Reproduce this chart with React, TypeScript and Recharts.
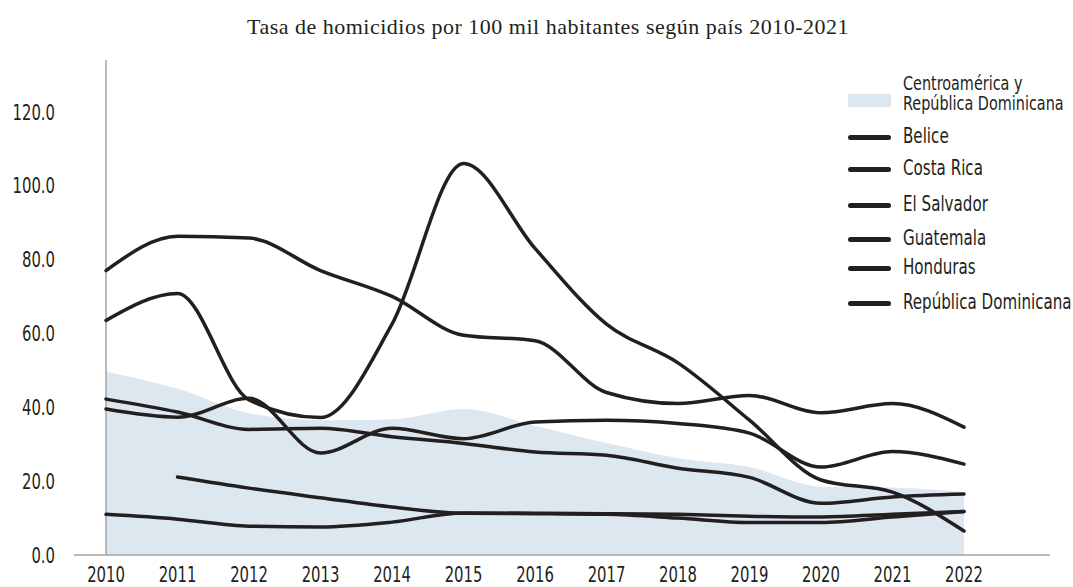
import React from 'react';
import { ComposedChart, Area, Line, XAxis, YAxis, ReferenceLine } from 'recharts';

const years = [2010, 2011, 2012, 2013, 2014, 2015, 2016, 2017, 2018, 2019, 2020, 2021, 2022];
const region = [49.7, 45, 38.4, 36.5, 36.7, 39.5, 35, 30.3, 26.2, 23.8, 18.5, 18.3, 17];
const belice = [39.5, 37.3, 42.4, 27.6, 34.3, 31.5, 36, 36.5, 35.6, 33, 23.8, 28, 24.6];
const costaRica = [11, 9.7, 7.8, 7.6, 8.9, 11.4, 11.3, 11.2, 11.0, 10.5, 10.3, 11, 11.8];
const elSalvador = [63.5, 70.8, 42, 37.2, 62.5, 106, 83, 62.5, 52, 36.5, 20.3, 17, 6.5];
const guatemala = [42.2, 38.7, 34, 34.3, 32, 30.2, 27.9, 27, 23.5, 21, 14, 15.7, 16.5];
const honduras = [77, 86.3, 85.8, 77, 70, 59.5, 58, 44, 41, 43.2, 38.5, 41, 34.6];
const repDom = [null, 21.1, 18.1, 15.5, 13, 11.3, 11.2, 11.0, 10, 8.8, 8.8, 10.3, 11.8];

const yTicks = [0, 20, 40, 60, 80, 100, 120];
const title = 'Tasa de homicidios por 100 mil habitantes según país 2010-2021';
const areaLabel = ['Centroamérica y', 'República Dominicana'];
const lineSeries = [
  { key: 'belice', name: 'Belice', values: belice },
  { key: 'costaRica', name: 'Costa Rica', values: costaRica },
  { key: 'elSalvador', name: 'El Salvador', values: elSalvador },
  { key: 'guatemala', name: 'Guatemala', values: guatemala },
  { key: 'honduras', name: 'Honduras', values: honduras },
  { key: 'repDom', name: 'República Dominicana', values: repDom },
];

const data = years.map((year, i) => {
  const row: Record<string, number | null> = { year, region: region[i] };
  lineSeries.forEach((s) => {
    row[s.key] = s.values[i];
  });
  return row;
});

const FONT = "'DejaVu Sans Condensed', 'Liberation Sans Narrow', sans-serif";
const INK = '#231f20';
const AREA_FILL = '#dde7f0';
const AXIS = '#a3a3a3';
const TICK_SQUEEZE = 0.75;
const LEGEND_SQUEEZE = 0.8;

const legendTops = [137, 169, 205, 239, 268, 303];

function XTick(props: any) {
  const { x, y, payload } = props;
  return (
    <text
      transform={`translate(${x},${y}) scale(${TICK_SQUEEZE},1)`}
      textAnchor="middle"
      dy="0.71em"
      fill={INK}
      fontSize={22}
      fontFamily={FONT}
    >
      {payload.value}
    </text>
  );
}

function YTick(props: any) {
  const { x, y, payload } = props;
  return (
    <text
      transform={`translate(${x},${y}) scale(${TICK_SQUEEZE},1)`}
      textAnchor="end"
      dy="0.355em"
      fill={INK}
      fontSize={22}
      fontFamily={FONT}
    >
      {Number(payload.value).toFixed(1)}
    </text>
  );
}

export default function App() {
  return (
    <div style={{ position: 'absolute', left: 0, top: 0, width: 1073, height: 587, background: '#fff' }}>
      <div
        style={{
          position: 'absolute',
          left: 0,
          top: 13,
          width: 1096,
          textAlign: 'center',
          fontFamily: "'Liberation Serif', 'DejaVu Serif', serif",
          fontSize: 22,
          letterSpacing: 0.5,
          color: INK,
          lineHeight: '28px',
        }}
      >
        {title}
      </div>
      <ComposedChart
        width={1073}
        height={587}
        data={data}
        margin={{ top: 60, right: 23, bottom: 0, left: 0 }}
      >
        <XAxis
          dataKey="year"
          type="number"
          domain={[2009.552, 2023.203]}
          ticks={years}
          interval={0}
          allowDataOverflow
          axisLine={{ stroke: AXIS, strokeWidth: 1.5 }}
          tickLine={false}
          tickSize={0}
          tickMargin={11}
          height={32}
          tick={<XTick />}
        />
        <YAxis
          type="number"
          domain={[0, 134]}
          ticks={yTicks}
          interval={0}
          width={74}
          axisLine={false}
          tickLine={false}
          tickSize={0}
          tickMargin={19}
          tick={<YTick />}
        />
        <Area
          type="monotone"
          dataKey="region"
          stroke="none"
          fill={AREA_FILL}
          fillOpacity={1}
          isAnimationActive={false}
          dot={false}
          activeDot={false}
        />
        <ReferenceLine x={2010} stroke={AXIS} strokeWidth={1.5} />
        {lineSeries.map((s) => (
          <Line
            key={s.key}
            type="monotone"
            dataKey={s.key}
            name={s.name}
            stroke={INK}
            strokeWidth={3.5}
            strokeLinecap="round"
            dot={false}
            activeDot={false}
            isAnimationActive={false}
          />
        ))}
      </ComposedChart>
      <div style={{ position: 'absolute', left: 0, top: 0, fontFamily: FONT, fontSize: 21, color: INK }}>
        <div style={{ position: 'absolute', left: 848, top: 94, width: 43, height: 13, background: AREA_FILL }} />
        {areaLabel.map((t, i) => (
          <div
            key={t}
            style={{
              position: 'absolute',
              left: 903,
              top: 74 + i * 20,
              fontSize: 20,
              lineHeight: '19px',
              height: 19,
              whiteSpace: 'nowrap',
              transform: `scaleX(${LEGEND_SQUEEZE})`,
              transformOrigin: 'left center',
            }}
          >
            {t}
          </div>
        ))}
        {lineSeries.map((s, i) => (
          <React.Fragment key={s.key}>
            <div
              style={{
                position: 'absolute',
                left: 848,
                top: legendTops[i] - 2,
                width: 43,
                height: 4.5,
                borderRadius: 3,
                background: INK,
              }}
            />
            <div
              style={{
                position: 'absolute',
                left: 903,
                top: legendTops[i] - 13,
                lineHeight: '24px',
                whiteSpace: 'nowrap',
                transform: `scaleX(${LEGEND_SQUEEZE})`,
                transformOrigin: 'left center',
              }}
            >
              {s.name}
            </div>
          </React.Fragment>
        ))}
      </div>
    </div>
  );
}
